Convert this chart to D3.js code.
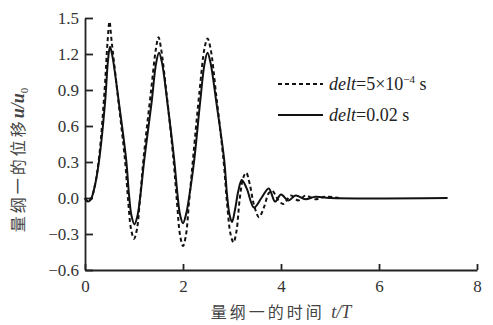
<!DOCTYPE html>
<html>
<head>
<meta charset="utf-8">
<script src="https://cdn.jsdelivr.net/npm/d3@7"></script>
<style>
  body { margin: 0; background: #fff; }
  svg { display: block; }
  .axis text { font-family: "Liberation Serif", serif; font-size: 17px; fill: #333; }
  .axis path, .axis line { stroke: #222; stroke-width: 1.8; }
</style>
</head>
<body>
<div id="chart"></div>
<script>
// Chart size
var w = 493,
    h = 325;

// Tick values
var xTicks = [0, 2, 4, 6, 8],
    yTicks = [-0.6, -0.3, 0.0, 0.3, 0.6, 0.9, 1.2, 1.5];

// Series: delt = 5e-4 s (dashed)
var fineT = [0, 0.06, 0.12, 0.2, 0.29, 0.4, 0.46, 0.5, 0.54, 0.67, 0.82, 0.88, 0.94, 1.0, 1.06, 1.12, 1.2, 1.35, 1.45, 1.5, 1.55, 1.67, 1.81, 1.88, 1.94, 2.0, 2.06, 2.12, 2.21, 2.34, 2.44, 2.5, 2.56, 2.68, 2.83, 2.9, 2.97, 3.03, 3.09, 3.16, 3.23, 3.29, 3.36, 3.45, 3.55, 3.65, 3.75, 3.82, 3.95, 4.05, 4.2, 4.35, 4.5, 4.7, 4.9, 5.2],
    fineU = [0, -0.03, -0.01, 0.1, 0.35, 0.9, 1.3, 1.47, 1.32, 0.85, 0.3, -0.02, -0.26, -0.34, -0.26, -0.02, 0.35, 0.9, 1.25, 1.34, 1.25, 0.85, 0.3, -0.05, -0.31, -0.4, -0.31, -0.05, 0.35, 0.9, 1.25, 1.33, 1.25, 0.85, 0.3, -0.05, -0.3, -0.37, -0.28, 0.0, 0.17, 0.21, 0.12, -0.06, -0.16, -0.08, 0.04, 0.06, -0.02, -0.05, 0.02, -0.02, 0.02, -0.01, 0.01, 0];

// Series: delt = 0.02 s (solid)
var coarseT = [0, 0.06, 0.12, 0.2, 0.29, 0.41, 0.47, 0.51, 0.56, 0.69, 0.84, 0.9, 0.95, 1.01, 1.07, 1.13, 1.21, 1.36, 1.45, 1.51, 1.57, 1.68, 1.82, 1.89, 1.94, 2.0, 2.06, 2.13, 2.23, 2.35, 2.44, 2.5, 2.56, 2.68, 2.84, 2.9, 2.95, 3.0, 3.06, 3.13, 3.2, 3.3, 3.45, 3.6, 3.75, 3.88, 4.0, 4.15, 4.3, 4.5, 4.7, 5.0, 7.4],
    coarseU = [0, -0.03, -0.01, 0.1, 0.32, 0.8, 1.15, 1.26, 1.18, 0.8, 0.32, 0.02, -0.15, -0.22, -0.15, 0.02, 0.32, 0.8, 1.12, 1.21, 1.13, 0.8, 0.32, 0.02, -0.14, -0.21, -0.14, 0.02, 0.32, 0.8, 1.12, 1.21, 1.13, 0.8, 0.32, 0.02, -0.14, -0.2, -0.1, 0.06, 0.15, 0.08, -0.08, 0.0, 0.08, -0.03, 0.03, -0.02, 0.02, -0.01, 0.01, 0, 0];

var svg = d3.select("#chart")
    .append("svg")
    .attr("width", w)
    .attr("height", h);

// Scales
var x = d3.scaleLinear().domain([0, 8]).range([85, 477]);
var y = d3.scaleLinear().domain([-0.6, 1.5]).range([270, 18]);

// Axes, ticks pointing inward
svg.append("g")
    .attr("class", "axis")
    .attr("transform", "translate(0," + y(-0.6) + ")")
    .call(d3.axisBottom(x).tickValues(xTicks).tickSizeInner(-6).tickSizeOuter(0).tickPadding(10)
        .tickFormat(d3.format("d")));

svg.append("g")
    .attr("class", "axis")
    .attr("transform", "translate(" + x(0) + ",0)")
    .call(d3.axisLeft(y).tickValues(yTicks).tickSizeInner(-8).tickSizeOuter(0).tickPadding(6)
        .tickFormat(function (d) { return d3.format(".1f")(d).replace("-", "\u2212"); }));

// Lines
var line = d3.line()
    .x(function (d) { return x(d[0]); })
    .y(function (d) { return y(d[1]); })
    .curve(d3.curveCatmullRom.alpha(0.5));

var fine = fineT.map(function (t, i) { return [t, fineU[i]]; });
var coarse = coarseT.map(function (t, i) { return [t, coarseU[i]]; });

svg.append("path")
    .datum(coarse)
    .attr("d", line)
    .attr("fill", "none")
    .attr("stroke", "#111")
    .attr("stroke-width", 2);

svg.append("path")
    .datum(fine)
    .attr("d", line)
    .attr("fill", "none")
    .attr("stroke", "#111")
    .attr("stroke-width", 2)
    .attr("stroke-dasharray", "4,3");

// Legend
var legend = [
    { dash: "4,3", y: 84, main: "5\u00d710", sup: "\u22124", tail: " s" },
    { dash: null, y: 115, main: "0.02 s", sup: null, tail: "" }
];

legend.forEach(function (d) {
    svg.append("line")
        .attr("x1", 278).attr("x2", 323)
        .attr("y1", d.y).attr("y2", d.y)
        .attr("stroke", "#111")
        .attr("stroke-width", 2)
        .attr("stroke-dasharray", d.dash);
    var t = svg.append("text")
        .attr("x", 329)
        .attr("y", d.y + 6)
        .style("font-family", "'Liberation Serif', serif")
        .style("font-size", "18px")
        .style("fill", "#222");
    t.append("tspan").style("font-style", "italic").text("delt");
    t.append("tspan").text("=" + d.main);
    if (d.sup) {
        t.append("tspan").attr("dy", -7).style("font-size", "11px").text(d.sup);
        t.append("tspan").attr("dy", 7).text(d.tail);
    }
});

// Axis titles
var xt = svg.append("text")
    .attr("x", 281)
    .attr("y", 318)
    .attr("text-anchor", "middle")
    .style("fill", "#444");
xt.append("tspan")
    .style("font-family", "'Noto Sans CJK SC', sans-serif")
    .style("font-size", "16px")
    .style("letter-spacing", "3px")
    .text("量纲一的时间 ");
xt.append("tspan")
    .style("font-family", "'Liberation Serif', serif")
    .style("font-size", "18px")
    .style("font-style", "italic")
    .text("t/T");

var yt = svg.append("text")
    .attr("transform", "translate(24,160) rotate(-90)")
    .attr("text-anchor", "middle")
    .style("fill", "#444");
yt.append("tspan")
    .style("font-family", "'Noto Sans CJK SC', sans-serif")
    .style("font-size", "16px")
    .style("letter-spacing", "3px")
    .text("量纲一的位移");
yt.append("tspan")
    .style("font-family", "'Liberation Serif', serif")
    .style("font-size", "18px")
    .style("font-style", "italic")
    .style("font-weight", "bold")
    .text("u/u");
yt.append("tspan")
    .attr("dy", 4)
    .style("font-family", "'Liberation Serif', serif")
    .style("font-size", "11px")
    .text("0");
</script>
</body>
</html>
